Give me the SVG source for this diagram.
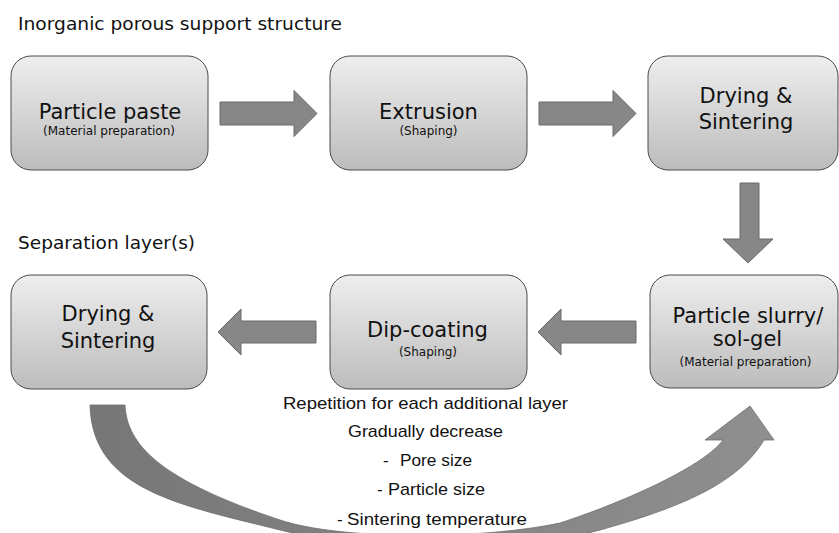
<svg xmlns="http://www.w3.org/2000/svg" width="839" height="533" viewBox="0 0 839 533">
<defs>
<linearGradient id="boxg" x1="0" y1="0" x2="0" y2="1">
<stop offset="0" stop-color="#eeeeee"/>
<stop offset="1" stop-color="#bcbcbc"/>
</linearGradient>
<linearGradient id="curveg" x1="0" y1="0" x2="1" y2="0">
<stop offset="0" stop-color="#777777"/>
<stop offset="1" stop-color="#8f8f8f"/>
</linearGradient>
</defs>
<style>
.box{fill:url(#boxg);stroke:#4a4a4a;stroke-width:1}
.arr{fill:#878787;stroke:#6a6a6a;stroke-width:1}
.t{font-family:"DejaVu Sans",Verdana,sans-serif;fill:#111;text-anchor:middle}
.big{font-size:21px}
.sub{font-size:12px}
.head{font-family:"DejaVu Sans",Verdana,sans-serif;fill:#111;font-size:18.5px}
.n{font-family:"Liberation Sans",Arial,sans-serif;fill:#111;font-size:17px}
</style>
<rect width="839" height="533" fill="#ffffff"/>
<text class="head" x="18" y="30" textLength="324" lengthAdjust="spacingAndGlyphs">Inorganic porous support structure</text>
<text class="head" x="18" y="249" textLength="177" lengthAdjust="spacingAndGlyphs">Separation layer(s)</text>

<g id="connectors">
<path class="arr" d="M220 102 H294 V90.5 L317 113.5 L294 136.5 V125 H220 Z"/>
<path class="arr" d="M539 102 H613 V90.5 L636 113.5 L613 136.5 V125 H539 Z"/>
<path class="arr" d="M740 183 H759 V239 H773 L748 263 L723 239 H740 Z"/>
<path class="arr" d="M636 321 H561 V309 L538 332 L561 355 V343 H636 Z"/>
<path class="arr" d="M316 321 H241 V309 L218 332 L241 355 V343 H316 Z"/>
<path fill="url(#curveg)" stroke="#6d6d6d" stroke-width="0.8" d="M90 405 L125 405 C127 445 160 480 280 520 C340 540 480 540 560 523 C630 500 705 465 723 440 L705 440 L750 406 L774 440 L764 440 C740 480 690 505 600 530 C520 552 380 555 280 530 C180 505 92 490 90 405 Z"/>
</g>

<g id="n1">
<rect class="box" x="11" y="56" width="197" height="114" rx="20"/>
<text class="t big" x="110" y="119">Particle paste</text>
<text class="t sub" x="109" y="135">(Material preparation)</text>
</g>
<g id="n2">
<rect class="box" x="330" y="56" width="197" height="114" rx="20"/>
<text class="t big" x="428.5" y="119">Extrusion</text>
<text class="t sub" x="428.5" y="135">(Shaping)</text>
</g>
<g id="n3">
<rect class="box" x="648" y="56" width="190" height="114" rx="20"/>
<text class="t big" x="746" y="103">Drying &amp;</text>
<text class="t big" x="746" y="129">Sintering</text>
</g>
<g id="n4">
<rect class="box" x="650" y="275" width="188" height="113" rx="20"/>
<text class="t big" x="748" y="323">Particle slurry/</text>
<text class="t big" x="747.5" y="346">sol-gel</text>
<text class="t sub" x="745.5" y="366">(Material preparation)</text>
</g>
<g id="n5">
<rect class="box" x="330" y="275" width="197" height="114" rx="20"/>
<text class="t big" x="427.5" y="337">Dip-coating</text>
<text class="t sub" x="428" y="356">(Shaping)</text>
</g>
<g id="n6">
<rect class="box" x="11" y="275" width="196" height="114" rx="20"/>
<text class="t big" x="108" y="321">Drying &amp;</text>
<text class="t big" x="108" y="348">Sintering</text>
</g>

<g id="notes">
<text class="n" x="283" y="409" textLength="285" lengthAdjust="spacingAndGlyphs">Repetition for each additional layer</text>
<text class="n" x="348" y="437" textLength="155" lengthAdjust="spacingAndGlyphs">Gradually decrease</text>
<text class="n" x="383" y="466">-</text>
<text class="n" x="400" y="466" textLength="72" lengthAdjust="spacingAndGlyphs">Pore size</text>
<text class="n" x="377" y="495">-</text>
<text class="n" x="388" y="495" textLength="97" lengthAdjust="spacingAndGlyphs">Particle size</text>
<text class="n" x="337" y="525">-</text>
<text class="n" x="347" y="525" textLength="180" lengthAdjust="spacingAndGlyphs">Sintering temperature</text>
</g>
</svg>
